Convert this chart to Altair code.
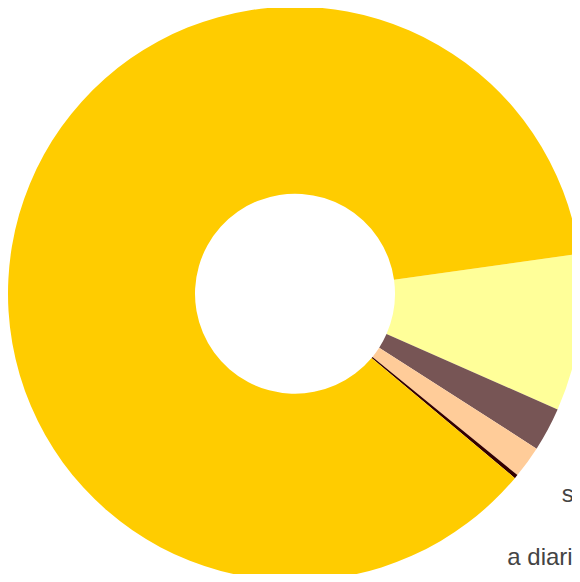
import math
import altair as alt
import pandas as pd

# ---- data ----
categories = ["ocasionalmente", "mensualmente", "semanalmente", "a diario o casi", "nunca"]
shares = [8.83, 2.47, 1.81, 0.22, 86.67]          # percent of the ring
pct_labels = ["8.8%", "2.5%", "1.8%", "0.4%", "86.7%"]
slice_colors = ["#FFFF99", "#775555", "#FFCC99", "#330000", "#FFCC00"]

df = pd.DataFrame({
    "category": categories,
    "share": shares,
    "pct": pct_labels,
    "idx": list(range(len(categories))),
})
df["label"] = df["category"] + "\n" + df["pct"]

START = math.radians(82)

theta = alt.Theta("share:Q", stack=True,
                  scale=alt.Scale(range=[START, START + 2 * math.pi]))
order = alt.Order("idx:Q", sort="ascending")
cx = alt.value(287)
cy = alt.value(285.7)

base = alt.Chart(df)

ring = base.mark_arc(innerRadius=100, outerRadius=287, stroke=None).encode(
    theta=theta,
    order=order,
    x=cx, y=cy,
    color=alt.Color("category:N", legend=None,
                    scale=alt.Scale(domain=categories, range=slice_colors)),
)

txt_style = dict(radius=400, align="center", baseline="alphabetic", fontSize=24,
                 font="Liberation Sans", color="#444444", lineBreak="\n", lineHeight=29)

lab_a = base.transform_calculate(
    t="datum.category == 'semanalmente' ? datum.label : ''"
).mark_text(dx=21.6, dy=-26.8, **txt_style).encode(
    theta=theta, order=order, x=cx, y=cy, text="t:N")

lab_b = base.transform_calculate(
    t="datum.category == 'a diario o casi' ? datum.label : ''"
).mark_text(dx=-21.9, dy=16.3, **txt_style).encode(
    theta=theta, order=order, x=cx, y=cy, text="t:N")

chart = alt.layer(ring, lab_a, lab_b).properties(
    width=564, height=566,
    autosize=alt.AutoSizeParams(type="none"),
    padding=0,
    background="#ffffff",
).configure_view(stroke=None)

chart.save("out.html", embed_options={"renderer": "svg", "actions": False})
